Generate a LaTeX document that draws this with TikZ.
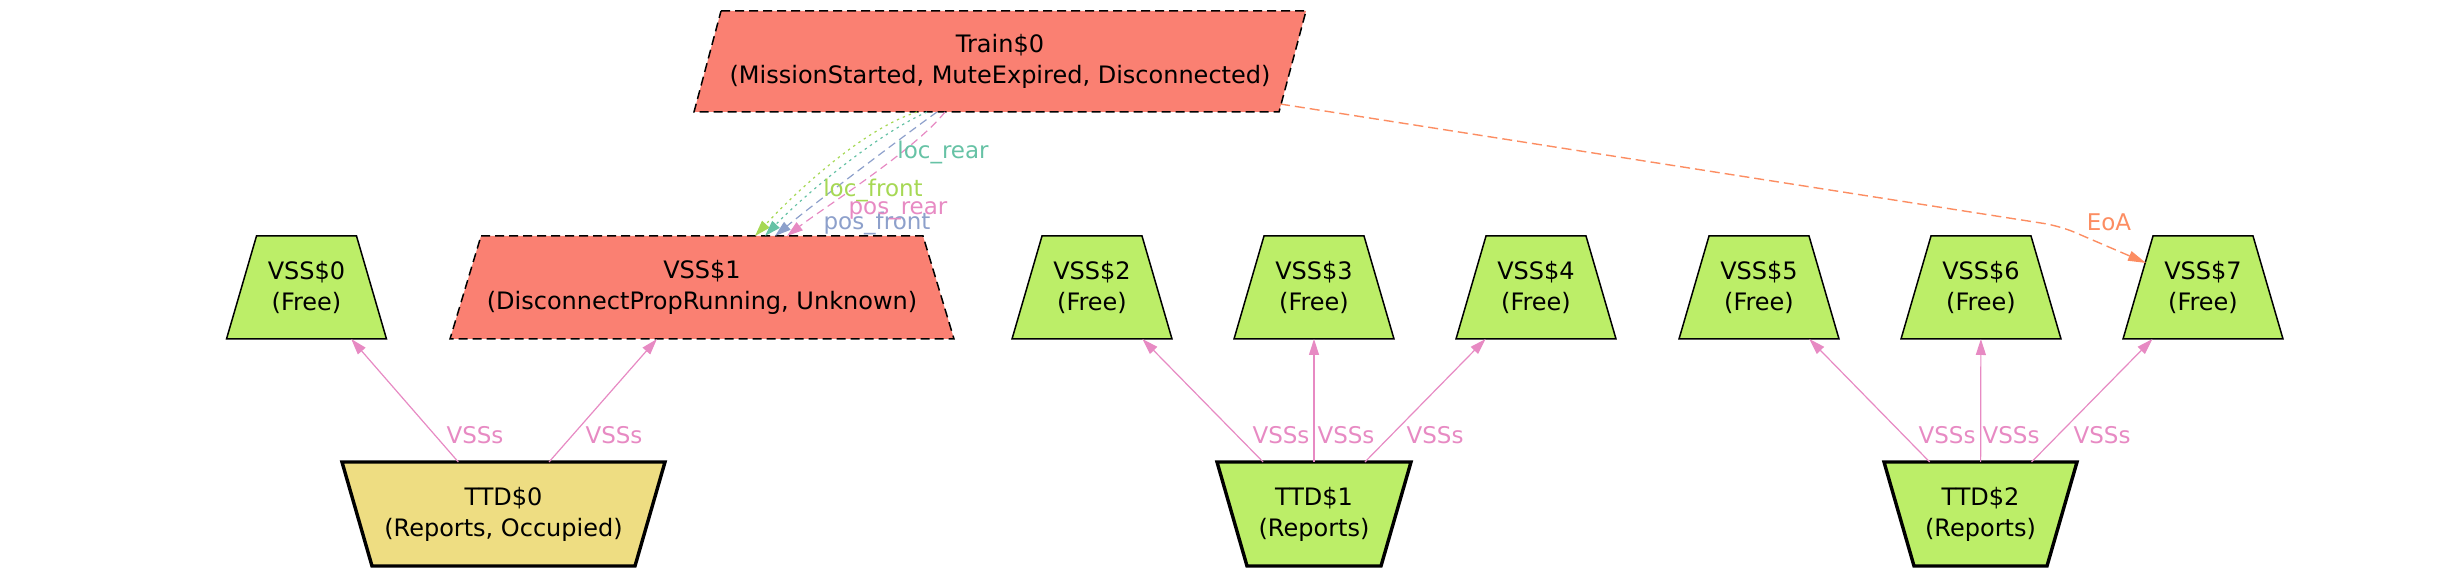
\documentclass[tikz,border=0pt]{standalone}
\usepackage{fontspec}
\setmainfont{DejaVu Sans}
\usetikzlibrary{arrows.meta,calc,backgrounds}
\definecolor{salmonc}{HTML}{FA8072}
\definecolor{vssgreen}{HTML}{BCEE68}
\definecolor{ttdkhaki}{HTML}{EEDD82}
\definecolor{stteal}{HTML}{66C2A5}
\definecolor{storange}{HTML}{FC8D62}
\definecolor{stblue}{HTML}{8DA0CB}
\definecolor{stpink}{HTML}{E78AC3}
\definecolor{stgreen}{HTML}{A6D854}
\tikzset{
  box/.style={rectangle, draw=none, inner sep=0pt, outer sep=0pt, align=center,
              font=\fontsize{12}{15.5}\selectfont},
  vssbox/.style={box, minimum width=80pt, minimum height=51.5pt},
  ttdbox/.style={box, minimum height=52pt},
  thinborder/.style={draw=black, line width=0.75pt, line join=miter},
  boldborder/.style={draw=black, line width=1.7pt, line join=miter},
  dashborder/.style={draw=black, line width=0.75pt, dash pattern=on 4.5pt off 2.5pt},
  elabel/.style={inner sep=0pt, font=\fontsize{11.5}{13}\selectfont},
  vssedge/.style={draw=stpink, line width=0.6pt, -{Triangle[length=8pt,width=5pt]}},
  trainedge/.style={line width=0.6pt, -{Triangle[length=8pt,width=5pt]}},
  dotpat/.style={dash pattern=on 1.2pt off 2pt},
  dashpat/.style={dash pattern=on 4pt off 2.5pt},
  eoaedge/.style={draw=storange, line width=0.7pt, dash pattern=on 5pt off 2.5pt,
                  rounded corners=8pt, -{Triangle[length=9pt,width=5pt]}}
}
\newcommand\trapup[3]{%
  \path[#3] ($(#1.north west)+(#2,0)$) -- ($(#1.north east)+(-#2,0)$)
    -- (#1.south east) -- (#1.south west) -- cycle;}
\newcommand\trapdown[3]{%
  \path[#3] (#1.north west) -- (#1.north east)
    -- ($(#1.south east)+(-#2,0)$) -- ($(#1.south west)+(#2,0)$) -- cycle;}
\begin{document}
\begin{tikzpicture}[x=0.5pt,y=-0.5pt]
\useasboundingbox (0,0) rectangle (2447,576);

% nodes
\node[box, minimum width=306pt, minimum height=50.5pt] (train) at (1000,61.5)
  {Train\$0\\(MissionStarted, MuteExpired, Disconnected)};
\node[vssbox] (vss0) at (306.5,287.5) {VSS\$0\\(Free)};
\node[vssbox, minimum width=252pt] (vss1) at (702,287.5)
  {VSS\$1\\(DisconnectPropRunning, Unknown)};
\node[vssbox] (vss2) at (1092,287.5) {VSS\$2\\(Free)};
\node[vssbox] (vss3) at (1314,287.5) {VSS\$3\\(Free)};
\node[vssbox] (vss4) at (1536,287.5) {VSS\$4\\(Free)};
\node[vssbox] (vss5) at (1759,287.5) {VSS\$5\\(Free)};
\node[vssbox] (vss6) at (1981,287.5) {VSS\$6\\(Free)};
\node[vssbox] (vss7) at (2203,287.5) {VSS\$7\\(Free)};
\node[ttdbox, minimum width=161.5pt] (ttd0) at (503.5,514) {TTD\$0\\(Reports, Occupied)};
\node[ttdbox, minimum width=97pt] (ttd1) at (1314,514) {TTD\$1\\(Reports)};
\node[ttdbox, minimum width=96.5pt] (ttd2) at (1980.5,514) {TTD\$2\\(Reports)};

% shapes
\begin{scope}[on background layer]
  \path[fill=salmonc, dashborder] ($(train.north west)+(27,0)$) -- (train.north east)
    -- ($(train.south east)+(-27,0)$) -- (train.south west) -- cycle;
  \trapup{vss0}{30}{fill=vssgreen, thinborder}
  \trapup{vss1}{31}{fill=salmonc, dashborder}
  \trapup{vss2}{30}{fill=vssgreen, thinborder}
  \trapup{vss3}{30}{fill=vssgreen, thinborder}
  \trapup{vss4}{30}{fill=vssgreen, thinborder}
  \trapup{vss5}{30}{fill=vssgreen, thinborder}
  \trapup{vss6}{30}{fill=vssgreen, thinborder}
  \trapup{vss7}{30}{fill=vssgreen, thinborder}
  \trapdown{ttd0}{30}{fill=ttdkhaki, boldborder}
  \trapdown{ttd1}{30}{fill=vssgreen, boldborder}
  \trapdown{ttd2}{30}{fill=vssgreen, boldborder}
\end{scope}

% VSSs edges
\draw[vssedge] (ttd0) -- (vss0);
\draw[vssedge] (ttd0) -- (vss1);
\draw[vssedge] (ttd1) -- (vss2);
\draw[vssedge] (ttd1) -- (vss3);
\draw[vssedge] (ttd1) -- (vss4);
\draw[vssedge] (ttd2) -- (vss5);
\draw[vssedge] (ttd2) -- (vss6);
\draw[vssedge] (ttd2) -- (vss7);
\node[elabel, text=stpink] (l0a) at (475,435) {VSSs};
\node[elabel, text=stpink] (l0b) at (614,435) {VSSs};
\node[elabel, text=stpink] (l1a) at (1281,435) {VSSs};
\node[elabel, text=stpink] (l1b) at (1346,435) {VSSs};
\node[elabel, text=stpink] (l1c) at (1435,435) {VSSs};
\node[elabel, text=stpink] (l2a) at (1947,435) {VSSs};
\node[elabel, text=stpink] (l2b) at (2011,435) {VSSs};
\node[elabel, text=stpink] (l2c) at (2102,435) {VSSs};

% Train -> VSS$1 edges
\draw[trainedge, draw=stgreen, dotpat] ($(train.south)+(-83,0)$)
  .. controls ($(train.south)+(-140,18)$) and ($(vss1.north)+(88,-38)$) .. ($(vss1.north)+(53,0)$);
\draw[trainedge, draw=stteal, dotpat] ($(train.south)+(-73,0)$)
  .. controls ($(train.south)+(-125,23)$) and ($(vss1.north)+(98,-37)$) .. ($(vss1.north)+(63,0)$);
\draw[trainedge, draw=stblue, dashpat] ($(train.south)+(-63,0)$)
  .. controls ($(train.south)+(-102,28)$) and ($(vss1.north)+(108,-29)$) .. ($(vss1.north)+(73,0)$);
\draw[trainedge, draw=stpink, dashpat] ($(train.south)+(-55,0)$)
  .. controls ($(train.south)+(-85,38)$) and ($(vss1.north)+(120,-27)$) .. ($(vss1.north)+(85,0)$);
\node[elabel, text=stteal] (llocrear) at (943,152) {loc\_rear};
\node[elabel, text=stgreen] (llocfront) at (873,190) {loc\_front};
\node[elabel, text=stblue] (lposfront) at (877,223) {pos\_front};
\node[elabel, text=stpink] (lposrear) at (898,211) {pos\_rear};

% EoA edge
\coordinate (eoabend) at (2060,226);
\draw[eoaedge] ($(train.south east)+(-26,-8)$) -- (eoabend) -- ($(vss7.north west)+(23,27)$);
\node[elabel, text=storange] (leoa) at (2109,222) {EoA};
\end{tikzpicture}
\end{document}
